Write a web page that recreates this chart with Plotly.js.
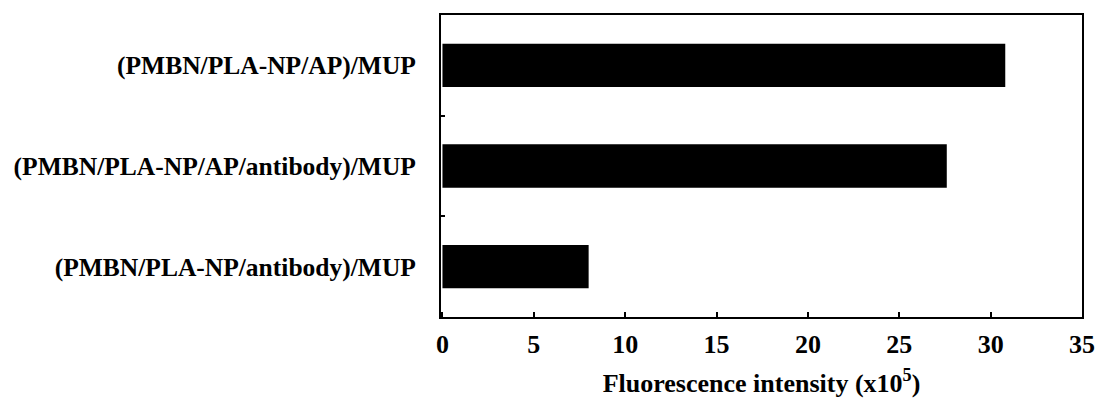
<!DOCTYPE html>
<html>
<head>
<meta charset="utf-8">
<script src="https://cdn.plot.ly/plotly-3.0.1.min.js"></script>
<style>html,body{margin:0;padding:0;background:#fff}#chart{width:1098px;height:398px}</style>
</head>
<body>
<div id="chart"></div>
<script>
const categories = ["(PMBN/PLA-NP/antibody)/MUP", "(PMBN/PLA-NP/AP/antibody)/MUP", "(PMBN/PLA-NP/AP)/MUP"];
const intensity = [8.0, 27.6, 30.8];
const xTicks = [0, 5, 10, 15, 20, 25, 30, 35];

const font = {family: "Liberation Serif, Times New Roman, serif", color: "#000", weight: "bold"};

Plotly.newPlot("chart", [{
  type: "bar",
  orientation: "h",
  y: categories,
  x: intensity,
  marker: {color: "#000", line: {width: 0}},
  hoverinfo: "none"
}], {
  width: 1098, height: 398,
  margin: {l: 441, r: 16, t: 15, b: 81},
  paper_bgcolor: "#fff", plot_bgcolor: "#fff",
  bargap: 0.57,
  showlegend: false,
  xaxis: {
    range: [-0.08, 35],
    tickvals: xTicks,
    ticktext: xTicks.map(String),
    ticks: "inside", ticklen: 5, tickwidth: 2, tickcolor: "#000",
    showline: true, linewidth: 2, linecolor: "#000", mirror: true,
    showgrid: false, zeroline: false,
    tickfont: Object.assign({size: 26}, font),
    ticklabelstandoff: 3,
    title: {text: "Fluorescence intensity (x10<sup>5</sup>)", font: Object.assign({size: 26}, font), standoff: 16}
  },
  yaxis: {
    tickson: "boundaries",
    ticks: "inside", ticklen: 4, tickwidth: 2, tickcolor: "#000",
    showline: true, linewidth: 2, linecolor: "#000", mirror: true,
    showgrid: false, zeroline: false,
    tickfont: Object.assign({size: 25.5}, font),
    ticklabelstandoff: 18
  }
}, {displayModeBar: false, staticPlot: true});
</script>
</body>
</html>
